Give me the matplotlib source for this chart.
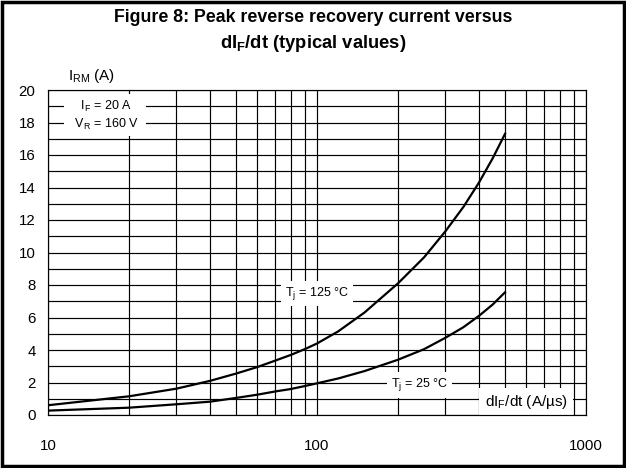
#!/usr/bin/env python3

import matplotlib
matplotlib.use('Agg')
import matplotlib.pyplot as plt
from matplotlib.patches import Rectangle
from matplotlib.ticker import FixedLocator, NullFormatter

plt.rcParams['font.family'] = ['Liberation Sans', 'DejaVu Sans']
plt.rcParams['mathtext.fontset'] = 'custom'
plt.rcParams['mathtext.rm'] = 'Liberation Sans'
plt.rcParams['mathtext.bf'] = 'Liberation Sans:bold'

# dIF/dt (A/us) and peak reverse recovery current IRM (A)
didt = [10, 20, 30, 40, 50, 60, 70, 80, 90, 100, 120, 150, 200, 250, 300, 350, 400, 450, 500]
irm_125 = [0.6, 1.15, 1.62, 2.1, 2.55, 2.95, 3.35, 3.7, 4.05, 4.4, 5.15, 6.3, 8.1, 9.7, 11.3, 12.8, 14.3, 15.8, 17.3]
irm_25 = [0.27, 0.45, 0.66, 0.82, 1.05, 1.25, 1.45, 1.6, 1.78, 1.95, 2.25, 2.7, 3.4, 4.05, 4.75, 5.4, 6.1, 6.8, 7.55]

y_ticks = list(range(0, 21, 2))
x_ticks = [10, 100, 1000]
x_grid = [m * d for d in (10, 100) for m in range(1, 10)] + [1000]

fig = plt.figure(figsize=(6.26, 4.68), dpi=100)
ax = fig.add_axes([48 / 626, 1 - 415 / 468, 538 / 626, 325 / 468])

ax.set_xscale('log')
ax.set_xlim(10, 1000)
ax.set_ylim(0, 20)

ax.xaxis.set_major_locator(FixedLocator(x_ticks))
ax.xaxis.set_minor_locator(FixedLocator(x_grid))
ax.xaxis.set_minor_formatter(NullFormatter())
ax.set_xticklabels([str(v) for v in x_ticks])
ax.set_yticks(y_ticks)
ax.set_yticks(range(0, 21), minor=True)

for v in x_grid:
    ax.axvline(v, color='black', lw=0.85, zorder=1)
for v in range(0, 21):
    ax.axhline(v, color='black', lw=0.85, zorder=1)

ax.tick_params(which='both', length=0, labelsize=10.8)
ax.tick_params(axis='x', pad=17)
ax.tick_params(axis='y', pad=9)
for s in ax.spines.values():
    s.set_linewidth(0.85)
    s.set_zorder(5)

ax.plot(didt, irm_125, color='black', lw=1.6, zorder=3)
ax.plot(didt, irm_25, color='black', lw=1.6, zorder=3)

box = dict(facecolor='white', edgecolor='none', pad=3)
ax.text(16.3, 18.45, '  $\\mathregular{I_F}$ = 20 A  \n  $\\mathregular{V_R}$ = 160 V  ',
        ha='center', va='center', fontsize=9, linespacing=1.3,
        bbox=dict(facecolor='white', edgecolor='none', pad=3), zorder=4)
ax.text(100, 7.5, '$\\mathregular{T_j}$ = 125 °C', ha='center', va='center',
        fontsize=9, bbox=box, zorder=4)
ax.text(240, 1.85, '$\\mathregular{T_j}$ = 25 °C', ha='center', va='center',
        fontsize=9, bbox=box, zorder=4)
ax.text(600, 0.8, '$\\mathregular{dI_F}$/dt (A/µs)', ha='center', va='center',
        fontsize=11, bbox=dict(facecolor='white', edgecolor='none', pad=4),
        zorder=4)

fig.text(68 / 626, 1 - 76 / 468, '$\\mathregular{I_{RM}}$ (A)', ha='left',
         va='center', fontsize=11)

fig.text(0.5, 1 - 18 / 468, 'Figure 8: Peak reverse recovery current versus',
         ha='center', va='center', fontsize=12.8, fontweight='bold')
fig.text(0.5, 1 - 44 / 468, 'dI$_{\\mathbf{F}}$/dt (typical values)',
         ha='center', va='center', fontsize=13.2, fontweight='bold')

fig.patches.append(Rectangle((2 / 626, 2 / 468), 622 / 626, 464 / 468,
                             transform=fig.transFigure, fill=False,
                             edgecolor='black', lw=2.5))

fig.savefig('out.png', dpi=100)
